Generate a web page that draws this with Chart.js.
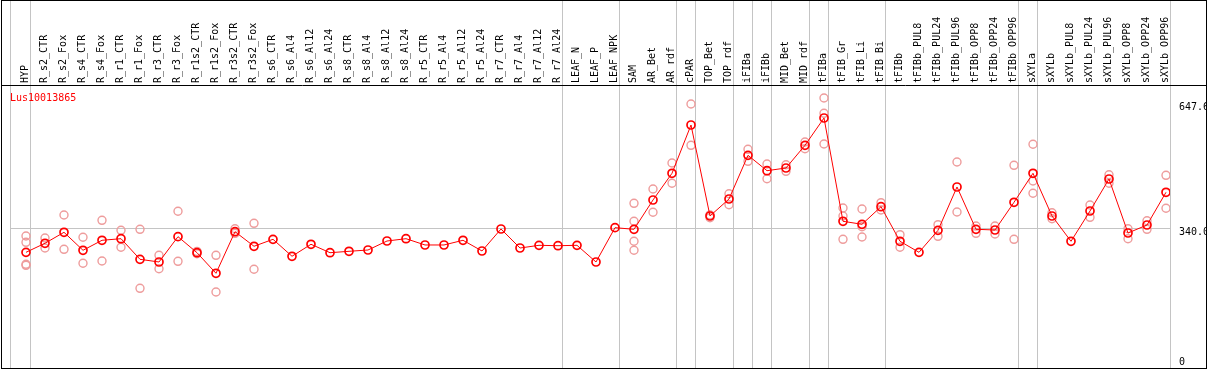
<!DOCTYPE html>
<html>
<head>
<meta charset="utf-8">
<script src="https://cdn.jsdelivr.net/npm/chart.js@4.4.1/dist/chart.umd.min.js"></script>
<style>
  html, body { margin: 0; padding: 0; background: #fff; }
  canvas { display: block; }
</style>
</head>
<body>
<canvas id="geneChart" width="1209" height="370"></canvas>
<script>
const geneId = 'Lus10013865';

const categories = [
  'HYP', 'R_s2_CTR', 'R_s2_Fox', 'R_s4_CTR', 'R_s4_Fox', 'R_r1_CTR', 'R_r1_Fox',
  'R_r3_CTR', 'R_r3_Fox', 'R_r1s2_CTR', 'R_r1s2_Fox', 'R_r3s2_CTR', 'R_r3s2_Fox',
  'R_s6_CTR', 'R_s6_Al4', 'R_s6_Al12', 'R_s6_Al24', 'R_s8_CTR', 'R_s8_Al4', 'R_s8_Al12',
  'R_s8_Al24', 'R_r5_CTR', 'R_r5_Al4', 'R_r5_Al12', 'R_r5_Al24', 'R_r7_CTR', 'R_r7_Al4',
  'R_r7_Al12', 'R_r7_Al24', 'LEAF_N', 'LEAF_P', 'LEAF_NPK', 'SAM', 'AR_Bet', 'AR_rdf',
  'cPAR', 'TOP_Bet', 'TOP_rdf', 'iFIBa', 'iFIBb', 'MID_Bet', 'MID_rdf', 'tFIBa',
  'tFIB_Gr', 'tFIB_Li', 'tFIB_Bi', 'tFIBb', 'tFIBb_PUL8', 'tFIBb_PUL24', 'tFIBb_PUL96',
  'tFIBb_OPP8', 'tFIBb_OPP24', 'tFIBb_OPP96', 'sXYLa', 'sXYLb', 'sXYLb_PUL8',
  'sXYLb_PUL24', 'sXYLb_PUL96', 'sXYLb_OPP8', 'sXYLb_OPP24', 'sXYLb_OPP96'
];

// mean expression per sample (the joined red line)
const meanValues = [
  280.7, 303.0, 330.1, 285.7, 310.4, 314.3, 263.4, 256.8, 319.3, 279.7,
  228.9, 331.6, 295.6, 312.8, 270.9, 300.5, 279.7, 283.2, 286.4, 308.6,
  314.3, 298.8, 298.8, 310.4, 284.0, 338.3, 291.3, 298.0, 297.0, 298.0,
  256.8, 341.5, 337.5, 409.9, 475.8, 595.0, 370.4, 412.3, 520.2, 482.2,
  488.9, 544.9, 612.3, 357.3, 349.9, 393.3, 307.9, 280.7, 335.0, 442.0,
  337.5, 335.8, 404.2, 475.8, 370.4, 307.9, 382.7, 461.7, 328.4, 348.1,
  428.9
];

// single replicates per sample (pale circles)
const replicates = [
  [321.0, 305.4, 251.1, 248.6], [316.0, 291.3], [372.8, 288.1], [317.8, 253.6],
  [359.7, 259.2], [335.0, 293.1], [337.5, 191.8], [273.3, 240.2], [382.0, 258.5],
  [283.0, 277.3], [273.3, 182.7], [339.0, 327.6], [352.3, 238.8],
  [], [], [], [], [], [], [], [], [], [], [], [], [], [], [], [], [], [], [],
  [401.7, 357.3, 307.9, 285.7], [437.0, 379.5], [501.2, 451.1], [646.9, 544.9],
  [373.0, 366.0], [425.4, 398.3], [535.0, 505.4], [498.7, 462.4], [497.0, 480.7],
  [553.1, 536.5], [661.7, 623.9, 548.1], [390.1, 370.4, 312.8], [387.6, 343.9, 318.5],
  [403.2, 385.2], [324.2, 293.1], [], [348.9, 320.2], [503.7, 380.2], [345.7, 327.6],
  [345.7, 325.9], [495.5, 312.8], [547.4, 456.8, 426.4], [378.5, 363.7], [],
  [397.5, 367.1], [472.3, 451.1], [339.0, 314.3], [358.7, 337.5], [470.8, 389.4]
];

const yTickValues = [0, 340.0, 647.6];
const groupEnds = ['HYP', 'R_r7_Al24', 'LEAF_NPK', 'AR_rdf', 'cPAR', 'TOP_rdf', 'iFIBa',
  'iFIBb', 'MID_rdf', 'tFIBa', 'tFIB_Bi', 'tFIBb_OPP96', 'sXYLa', 'sXYLb_OPP96'];

const monoFont = 'DejaVu Sans Mono';
const gridGray = '#c4c4c4';

const meanPoints = meanValues.map((v, i) => ({ x: i, y: v }));
const repPoints = [];
replicates.forEach((vals, i) => vals.forEach(v => repPoints.push({ x: i, y: v })));

// group separators, frame and gene name
const decorPlugin = {
  id: 'decor',
  beforeDatasetsDraw(chart) {
    const { ctx, chartArea } = chart;
    const xs = chart.scales.x;
    const lines = [chartArea.left].concat(
      groupEnds.map(n => xs.getPixelForValue(categories.indexOf(n)) + 4));
    ctx.save();
    ctx.strokeStyle = gridGray;
    ctx.lineWidth = 1;
    lines.forEach(px => {
      const p = Math.round(px) + 0.5;
      ctx.beginPath();
      ctx.moveTo(p, 0);
      ctx.lineTo(p, 368);
      ctx.stroke();
    });
    ctx.restore();
  },
  afterDraw(chart) {
    const { ctx } = chart;
    ctx.save();
    ctx.fillStyle = '#fff';
    ctx.fillRect(1207, 0, 2, 370);
    ctx.fillRect(0, 369, 1209, 1);
    ctx.strokeStyle = '#000';
    ctx.lineWidth = 1;
    ctx.strokeRect(1.5, 0.5, 1205, 368);
    ctx.beginPath();
    ctx.moveTo(1, 85.5);
    ctx.lineTo(1207, 85.5);
    ctx.stroke();
    ctx.fillStyle = '#ff0000';
    ctx.font = '10px "' + monoFont + '"';
    ctx.textBaseline = 'alphabetic';
    ctx.fillText(geneId, 10, 101);
    ctx.restore();
  }
};

const ctx = document.getElementById('geneChart');
const geneChart = new Chart(ctx, {
  type: 'scatter',
  data: {
    datasets: [
      {
        label: 'mean',
        data: meanPoints,
        showLine: true,
        borderColor: '#ff0000',
        borderWidth: 1,
        pointRadius: 4,
        pointBorderWidth: 1.7,
        pointBorderColor: '#ff0000',
        pointBackgroundColor: 'rgba(0,0,0,0)',
        order: 0
      },
      {
        label: 'replicates',
        data: repPoints,
        showLine: false,
        pointRadius: 4,
        pointBorderWidth: 1.4,
        pointBorderColor: '#ee9c9c',
        pointBackgroundColor: 'rgba(0,0,0,0)',
        order: 1
      }
    ]
  },
  options: {
    responsive: false,
    animation: false,
    layout: { autoPadding: false, padding: { left: 10, top: 0, right: 0, bottom: 2 } },
    plugins: {
      legend: { display: false },
      tooltip: { enabled: false }
    },
    scales: {
      x: {
        type: 'linear',
        position: 'top',
        min: -16 / 19,
        max: 60 + 4 / 19,
        afterBuildTicks: s => { s.ticks = categories.map((_, i) => ({ value: i })); },
        afterFit: s => {
          s.height = 85;
          s.paddingLeft = 0;
          s.paddingRight = 0;
        },
        grid: { display: false, drawTicks: false },
        border: { display: false },
        ticks: {
          autoSkip: false,
          minRotation: 90,
          maxRotation: 90,
          padding: 2,
          labelOffset: 11,
          color: '#000',
          font: { family: monoFont, size: 10 },
          callback: v => categories[v]
        }
      },
      y: {
        position: 'right',
        min: -4.94,
        max: 693.8,
        afterBuildTicks: s => { s.ticks = yTickValues.map(v => ({ value: v })); },
        afterFit: s => {
          s.width = 39;
          s.paddingTop = 0;
          s.paddingBottom = 0;
        },
        grid: {
          color: c => (c.tick && c.tick.value === 340 ? gridGray : 'rgba(0,0,0,0)'),
          drawTicks: false
        },
        border: { display: false },
        ticks: {
          padding: 9,
          color: '#000',
          font: { family: monoFont, size: 10, lineHeight: 0.8 },
          callback: v => (v === 0 ? ['0', ''] : ['', v.toFixed(1)])
        }
      }
    }
  },
  plugins: [decorPlugin]
});
</script>
</body>
</html>
